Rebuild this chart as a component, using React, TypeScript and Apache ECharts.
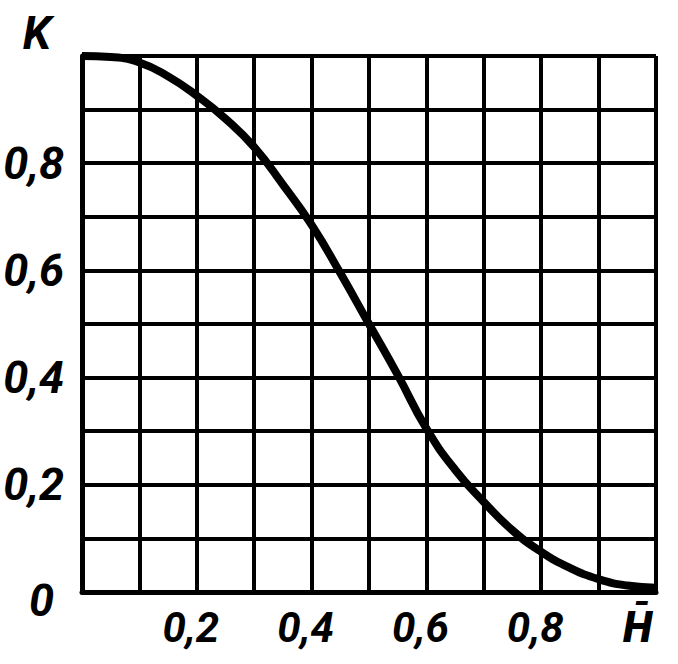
import React, { useEffect, useRef } from "react";
import * as echarts from "echarts";

const hValues = [0, 0.05, 0.1, 0.15, 0.2, 0.25, 0.3, 0.35, 0.4, 0.45, 0.5, 0.55, 0.6, 0.65, 0.7, 0.75, 0.8, 0.85, 0.9, 0.95, 1.0];
const kValues = [1.0, 0.998, 0.988, 0.962, 0.926, 0.883, 0.83, 0.76, 0.685, 0.595, 0.5, 0.405, 0.305, 0.228, 0.168, 0.115, 0.075, 0.045, 0.024, 0.012, 0.008];

const yAxisName = "K";
const xEndLabel = "H\u0304";

const FONT = "Roboto, 'DejaVu Sans Condensed', sans-serif";

export default function App() {
  const ref = useRef<HTMLDivElement>(null);
  useEffect(() => {
    if (!ref.current) return;
    const chart = echarts.init(ref.current, null, { renderer: "svg" });
    const data = hValues.map((h, i) => [h, kValues[i]]);
    chart.setOption({
      animation: false,
      backgroundColor: "#ffffff",
      grid: {
        left: 82,
        top: 56,
        right: 22,
        bottom: 72,
        containLabel: false,
        outerBoundsMode: "none",
      },
      xAxis: {
        type: "value",
        min: 0,
        max: 1,
        interval: 0.1,
        axisLine: { show: true, lineStyle: { color: "#000", width: 5 } },
        axisTick: { show: false },
        splitLine: { show: true, lineStyle: { color: "#000", width: 4 } },
        axisLabel: {
          margin: 14,
          color: "#000",
          fontFamily: FONT,
          fontStyle: "italic",
          fontWeight: "bold",
          fontSize: 42,
          formatter: (v: number) => {
            const r = Math.round(v * 10);
            if (r === 10) return "{h|" + xEndLabel + "}";
            if (r === 0 || r % 2 !== 0) return "";
            return "{d|" + v.toFixed(1).replace(".", ",") + "}";
          },
          rich: {
            d: {
              fontFamily: FONT,
              fontStyle: "italic",
              fontWeight: "bold",
              fontSize: 42,
              color: "#000",
              padding: [0, 12, 0, 0],
            },
            h: {
              fontFamily: FONT,
              fontStyle: "italic",
              fontWeight: "bold",
              fontSize: 42,
              color: "#000",
              padding: [0, 36, 0, 0],
            },
          },
        },
      },
      yAxis: {
        type: "value",
        min: 0,
        max: 1,
        interval: 0.1,
        name: yAxisName,
        nameLocation: "end",
        nameGap: 0,
        nameTextStyle: {
          color: "#000",
          fontFamily: FONT,
          fontStyle: "italic",
          fontWeight: "bold",
          fontSize: 46,
          lineHeight: 46,
          align: "center",
          verticalAlign: "bottom",
          padding: [0, 90, 0, 0],
        },
        axisLine: { show: true, lineStyle: { color: "#000", width: 5 } },
        axisTick: { show: false },
        splitLine: { show: true, lineStyle: { color: "#000", width: 4 } },
        axisLabel: {
          margin: 18,
          color: "#000",
          fontFamily: FONT,
          fontStyle: "italic",
          fontWeight: "bold",
          fontSize: 45,
          formatter: (v: number) => {
            const r = Math.round(v * 10);
            if (r === 10 || r % 2 !== 0) return "";
            if (r === 0) return "{z|0}";
            return v.toFixed(1).replace(".", ",");
          },
          rich: {
            z: {
              fontFamily: FONT,
              fontStyle: "italic",
              fontWeight: "bold",
              fontSize: 45,
              color: "#000",
              padding: [16, 10, 0, 0],
            },
          },
        },
      },
      series: [
        {
          type: "line",
          data,
          smooth: true,
          symbol: "none",
          clip: true,
          lineStyle: { color: "#000", width: 8 },
        },
      ],
    });
    return () => chart.dispose();
  }, []);
  return (
    <div
      ref={ref}
      style={{ position: "fixed", left: 0, top: 0, width: 678, height: 664, background: "#fff" }}
    />
  );
}
